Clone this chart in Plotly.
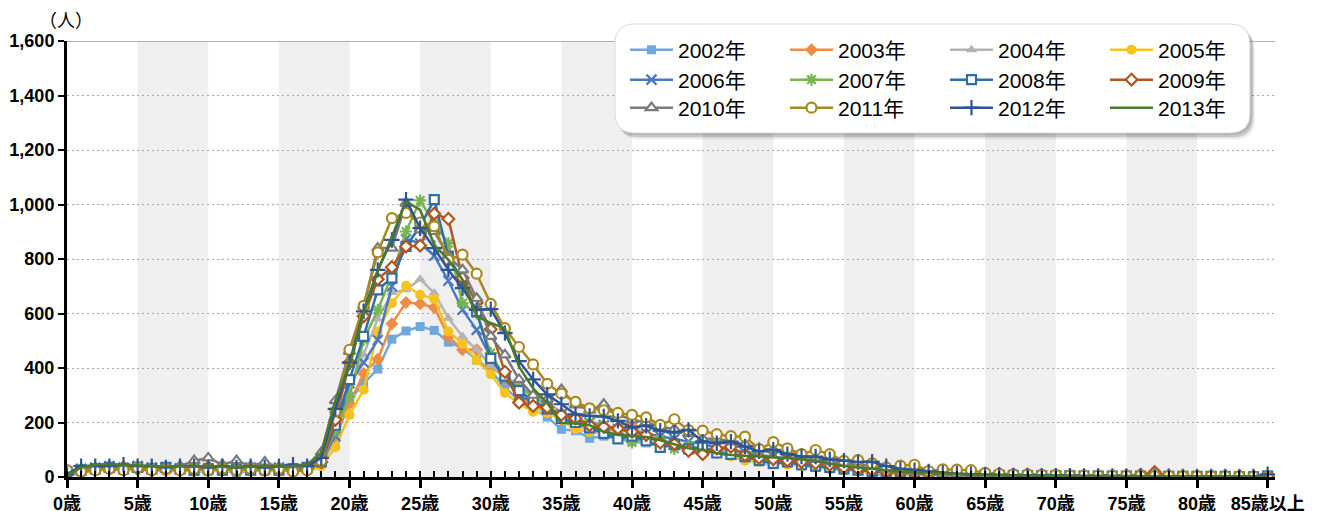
import plotly.graph_objects as go

# ---------------- data ----------------
ages = list(range(86))
tick_vals = [0, 5, 10, 15, 20, 25, 30, 35, 40, 45, 50, 55, 60, 65, 70, 75, 80, 85]
tick_labels = ["0歳", "5歳", "10歳", "15歳", "20歳", "25歳", "30歳", "35歳", "40歳",
               "45歳", "50歳", "55歳", "60歳", "65歳", "70歳", "75歳", "80歳", "85歳以上"]
y_tick_vals = [0, 200, 400, 600, 800, 1000, 1200, 1400, 1600]
y_tick_labels = ["0", "200", "400", "600", "800", "1,000", "1,200", "1,400", "1,600"]
series_names = ["2002年", "2003年", "2004年", "2005年", "2006年", "2007年",
                "2008年", "2009年", "2010年", "2011年", "2012年", "2013年"]

y2002 = [15, 20, 25, 30, 30, 35, 30, 25, 30, 20,
         20, 25, 15, 25, 20, 25, 30, 30, 50, 140,
         280, 344, 396, 506, 536, 552, 538, 495, 473, 430,
         390, 330, 280, 250, 220, 175, 170, 142, 150, 140,
         130, 125, 115, 110, 100, 95, 90, 80, 70, 55,
         45, 50, 40, 35, 30, 25, 35, 5, 15, 10,
         10, 12, 10, 8, 12, 10, 8, 10, 8, 6,
         8, 6, 5, 6, 5, 4, 5, 4, 3, 4,
         3, 4, 3, 2, 3, 8]
y2003 = [20, 25, 30, 35, 30, 30, 25, 30, 25, 30,
         25, 30, 20, 25, 30, 20, 25, 30, 50, 150,
         270, 380, 432, 562, 640, 636, 622, 516, 467, 467,
         412, 360, 300, 260, 240, 210, 190, 175, 170, 180,
         188, 150, 140, 120, 110, 100, 95, 90, 70, 60,
         55, 50, 45, 40, 35, 30, 25, 20, 18, 15,
         12, 10, 10, 8, 8, 6, 6, 5, 5, 4,
         4, 5, 4, 3, 4, 3, 8, 3, 2, 3,
         2, 3, 2, 2, 2, 3]
y2004 = [15, 25, 30, 35, 30, 35, 30, 30, 35, 30,
         30, 25, 30, 25, 30, 35, 25, 30, 60, 150,
         310, 450, 580, 677, 687, 726, 675, 583, 516, 467,
         409, 370, 336, 300, 270, 240, 200, 176, 170, 160,
         150, 140, 130, 120, 115, 105, 100, 90, 80, 70,
         60, 55, 50, 40, 35, 30, 30, 25, 20, 15,
         12, 10, 8, 8, 6, 6, 5, 5, 5, 4,
         4, 3, 4, 3, 3, 3, 2, 3, 2, 2,
         2, 2, 2, 2, 1, 3]
y2005 = [20, 15, 25, 30, 25, 30, 25, 20, 25, 20,
         25, 20, 25, 20, 25, 20, 25, 20, 40, 110,
         228, 320, 534, 638, 702, 669, 653, 534, 489, 428,
         377, 308, 270, 239, 235, 210, 175, 165, 160, 150,
         140, 130, 120, 115, 105, 100, 90, 75, 60, 55,
         50, 45, 40, 35, 30, 25, 20, 15, 12, 10,
         5, 8, 6, 5, 5, 4, 4, 3, 3, 3,
         3, 2, 3, 2, 2, 2, 2, 2, 1, 2,
         1, 2, 1, 1, 1, 2]
y2006 = [15, 30, 35, 40, 35, 40, 35, 35, 30, 35,
         30, 35, 30, 35, 30, 35, 30, 35, 60, 150,
         344, 420, 503, 700, 873, 858, 812, 720, 614, 540,
         437, 360, 300, 275, 250, 230, 210, 200, 190, 175,
         165, 160, 150, 140, 130, 120, 110, 100, 90, 80,
         75, 65, 60, 50, 45, 40, 35, 30, 25, 20,
         18, 15, 12, 10, 8, 8, 6, 6, 5, 5,
         5, 4, 4, 3, 3, 3, 3, 2, 2, 2,
         2, 2, 2, 1, 1, 3]
y2007 = [20, 30, 35, 40, 35, 35, 30, 35, 30, 35,
         30, 35, 30, 30, 35, 30, 30, 35, 55, 170,
         295, 503, 614, 740, 901, 1015, 930, 858, 638, 600,
         455, 364, 328, 297, 261, 224, 212, 200, 188, 176,
         127, 145, 139, 103, 115, 100, 90, 85, 75, 70,
         60, 55, 45, 40, 35, 30, 30, 25, 20, 15,
         15, 12, 10, 10, 8, 6, 6, 5, 5, 4,
         4, 4, 3, 3, 3, 3, 2, 2, 2, 2,
         2, 2, 1, 1, 1, 3]
y2008 = [20, 25, 30, 35, 30, 35, 30, 35, 30, 25,
         30, 25, 30, 25, 30, 25, 30, 35, 55, 190,
         357, 516, 687, 730, 846, 920, 1018, 810, 720, 607,
         435, 370, 317, 280, 250, 215, 200, 180, 160, 140,
         150, 133, 109, 120, 103, 110, 88, 83, 75, 61,
         50, 55, 45, 40, 35, 30, 25, 20, 18, 15,
         12, 10, 8, 8, 6, 6, 5, 5, 5, 4,
         4, 4, 3, 3, 3, 3, 3, 2, 2, 2,
         2, 2, 2, 1, 1, 3]
y2009 = [20, 25, 30, 30, 35, 30, 25, 30, 25, 30,
         35, 30, 25, 30, 25, 30, 25, 30, 55, 210,
         420, 590, 726, 770, 846, 849, 966, 947, 730, 640,
         542, 386, 273, 261, 255, 228, 215, 190, 184, 178,
         166, 154, 126, 121, 96, 84, 105, 111, 80, 70,
         65, 60, 55, 50, 45, 35, 30, 25, 20, 18,
         15, 12, 10, 8, 8, 6, 6, 5, 5, 4,
         4, 4, 3, 3, 3, 5, 8, 18, 4, 3,
         2, 2, 2, 2, 1, 2]
y2010 = [20, 25, 30, 30, 35, 30, 35, 30, 40, 60,
         70, 45, 60, 40, 55, 35, 30, 35, 90, 280,
         461, 627, 840, 840, 1005, 907, 901, 810, 760, 656,
         516, 448, 358, 300, 285, 321, 265, 245, 267, 230,
         210, 200, 185, 176, 160, 140, 140, 130, 120, 105,
         100, 90, 80, 65, 55, 50, 45, 40, 30, 25,
         20, 15, 12, 10, 10, 8, 8, 6, 6, 5,
         5, 5, 4, 4, 3, 3, 3, 3, 2, 2,
         2, 2, 2, 2, 1, 3]
y2011 = [25, 20, 25, 30, 25, 35, 25, 30, 25, 30,
         25, 30, 25, 30, 25, 30, 20, 25, 60, 240,
         467, 628, 824, 950, 969, 934, 920, 797, 816, 746,
         635, 546, 477, 413, 342, 306, 276, 252, 245, 235,
         228, 219, 191, 212, 172, 170, 157, 150, 148, 102,
         128, 105, 84, 99, 84, 59, 62, 50, 35, 42,
         45, 22, 28, 27, 25, 15, 12, 10, 10, 8,
         8, 6, 6, 5, 5, 5, 4, 4, 4, 3,
         3, 3, 3, 3, 2, 2]
y2012 = [10, 40, 40, 40, 45, 40, 40, 35, 40, 40,
         35, 40, 35, 40, 35, 40, 45, 40, 70, 250,
         420, 608, 760, 870, 1018, 913, 840, 760, 693, 613,
         616, 528, 425, 358, 303, 267, 230, 224, 222, 206,
         182, 188, 170, 163, 173, 130, 124, 130, 112, 94,
         100, 84, 75, 75, 65, 60, 55, 56, 40, 30,
         25, 20, 15, 12, 10, 8, 8, 6, 6, 5,
         5, 5, 4, 4, 4, 3, 3, 3, 3, 2,
         2, 2, 2, 2, 2, 10]
y2013 = [5, 35, 45, 48, 45, 42, 40, 38, 40, 38,
         40, 38, 35, 38, 40, 38, 40, 45, 90, 280,
         405, 601, 755, 883, 1011, 980, 852, 797, 724, 590,
         565, 546, 405, 325, 271, 198, 196, 190, 166, 154,
         150, 147, 135, 121, 105, 99, 87, 81, 77, 75,
         72, 70, 65, 60, 50, 40, 35, 30, 25, 20,
         18, 15, 12, 10, 8, 6, 6, 5, 5, 4,
         4, 4, 3, 3, 3, 3, 3, 2, 2, 2,
         2, 2, 2, 2, 1, 2]

series_values = [y2002, y2003, y2004, y2005, y2006, y2007,
                 y2008, y2009, y2010, y2011, y2012, y2013]

# ---------------- styles ----------------
colors = ["#6FA8DC", "#EE8C43", "#B4B4B4", "#F6C31E", "#4A78C2", "#78B450",
          "#2F6EA6", "#B0561F", "#7A7A7A", "#A8891E", "#2D5594", "#4A7A2C"]
symbols = ["square", "diamond", "triangle-up", "circle", "x-thin-open", "asterisk-open",
           "square", "diamond", "triangle-up", "circle", "cross-thin-open", None]
open_fill = [False, False, False, False, None, None, True, True, True, True, None, None]
sizes = [9, 10, 10, 10, 10, 10, 9, 9, 10, 10, 11, 0]
legend_ids = ["legend"] * 4 + ["legend2"] * 4 + ["legend3"] * 4

FONT = "Liberation Sans, Arial, Noto Sans CJK JP, sans-serif"

fig = go.Figure()
for name, vals, col, sym, opn, sz, lg in zip(series_names, series_values, colors, symbols,
                                            open_fill, sizes, legend_ids):
    if sym is None:
        mode = "lines"
        marker = None
    else:
        mode = "lines+markers"
        if opn is True:
            marker = dict(symbol=sym, size=sz, color="white", line=dict(color=col, width=2.2))
        elif opn is False:
            marker = dict(symbol=sym, size=sz, color=col, line=dict(width=0))
        else:
            marker = dict(symbol=sym, size=sz, color=col, line=dict(color=col, width=2.2))
    tr = go.Scatter(x=ages, y=vals, name=name, mode=mode, legend=lg,
                    line=dict(color=col, width=2.5))
    if marker is not None:
        tr.marker = marker
    fig.add_trace(tr)

# ---------------- geometry (screen pixels; page body has an 8px margin) ----------------
W, H = 1317, 511
OFF = 8
PLOT_L, PLOT_R, PLOT_T, PLOT_B = 67, 1275, 41, 477   # wanted on screen
PW, PH = PLOT_R - PLOT_L, PLOT_B - PLOT_T
M_L = PLOT_L - OFF
M_T = PLOT_T - OFF
M_R = W - (PLOT_R - OFF)
M_B = H - (PLOT_B - OFF)


def px_x(p):
    return (p - PLOT_L) / PW


def px_y(p):
    return (PLOT_B - p) / PH


def rrect(x0, y0, x1, y1, r):
    pts = [
        ("M", [(x0 + r, y0)]),
        ("L", [(x1 - r, y0)]),
        ("Q", [(x1, y0), (x1, y0 + r)]),
        ("L", [(x1, y1 - r)]),
        ("Q", [(x1, y1), (x1 - r, y1)]),
        ("L", [(x0 + r, y1)]),
        ("Q", [(x0, y1), (x0, y1 - r)]),
        ("L", [(x0, y0 + r)]),
        ("Q", [(x0, y0), (x0 + r, y0)]),
    ]
    s = ""
    for cmd, ps in pts:
        s += cmd + " " + " ".join(f"{px_x(a):.5f},{px_y(b):.5f}" for a, b in ps) + " "
    return s + "Z"


shapes = []
for s in range(5, 85, 10):
    shapes.append(dict(type="rect", xref="x", yref="paper", x0=s, x1=s + 5, y0=0, y1=1,
                       fillcolor="#EFEFEF", line=dict(width=0), layer="below"))
shapes.append(dict(type="line", xref="paper", yref="y", x0=0, x1=1, y0=1600, y1=1600,
                   line=dict(color="#9A9A9A", width=1.3), layer="above"))

bx0, by0, bx1, by1, rad = 615, 24, 1250, 133, 20
for dx, dy, a in [(5, 7, 0.05), (4, 5, 0.08), (3, 4, 0.10), (2, 2, 0.10)]:
    shapes.append(dict(type="path", xref="paper", yref="paper",
                       path=rrect(bx0 + dx, by0 + dy, bx1 + dx, by1 + dy, rad),
                       fillcolor=f"rgba(0,0,0,{a})", line=dict(width=0), layer="above"))
shapes.append(dict(type="path", xref="paper", yref="paper",
                   path=rrect(bx0, by0, bx1, by1, rad),
                   fillcolor="white", line=dict(color="#D8D8D8", width=1), layer="above"))

leg_common = dict(orientation="h", xref="paper", yref="paper", x=px_x(625), xanchor="left",
                  yanchor="middle", bgcolor="rgba(0,0,0,0)", borderwidth=0,
                  font=dict(family=FONT, size=21, color="black"), itemwidth=43,
                  entrywidth=102, entrywidthmode="pixels", traceorder="normal",
                  itemclick=False, itemdoubleclick=False)

fig.update_layout(
    template="none",
    width=W, height=H,
    margin=dict(l=M_L, r=M_R, t=M_T, b=M_B, pad=0, autoexpand=False),
    paper_bgcolor="white", plot_bgcolor="white",
    font=dict(family=FONT, size=18, color="black"),
    showlegend=True,
    legend=dict(leg_common, y=px_y(50)),
    legend2=dict(leg_common, y=px_y(80)),
    legend3=dict(leg_common, y=px_y(108)),
    shapes=shapes,
    annotations=[dict(text="（人）", xref="paper", yref="paper", x=px_x(66), y=px_y(21),
                      xanchor="center", yanchor="middle", showarrow=False,
                      font=dict(family=FONT, size=18, color="black"))],
    xaxis=dict(range=[0, 85.52], tickmode="array", tickvals=tick_vals, ticktext=tick_labels,
               ticks="outside", ticklen=8, tickwidth=2.5, tickcolor="black", automargin=False,
               showline=True, linewidth=3, linecolor="black", showgrid=False, zeroline=False,
               tickfont=dict(family=FONT, size=18, color="black", weight="bold"),
               minor=dict(tickmode="linear", tick0=0, dtick=1, ticks="inside", ticklen=6,
                          tickwidth=1.5, tickcolor="black", showgrid=False)),
    yaxis=dict(range=[0, 1600], tickmode="array", tickvals=y_tick_vals, ticktext=y_tick_labels,
               ticks="outside", ticklen=6, tickwidth=2, tickcolor="black", automargin=False,
               showline=True, linewidth=3, linecolor="black", zeroline=False,
               showgrid=True, gridcolor="#A8A8A8", gridwidth=1, griddash="2px,3px",
               tickfont=dict(family=FONT, size=18, color="black", weight="bold")),
)

fig.write_html("out.html")
